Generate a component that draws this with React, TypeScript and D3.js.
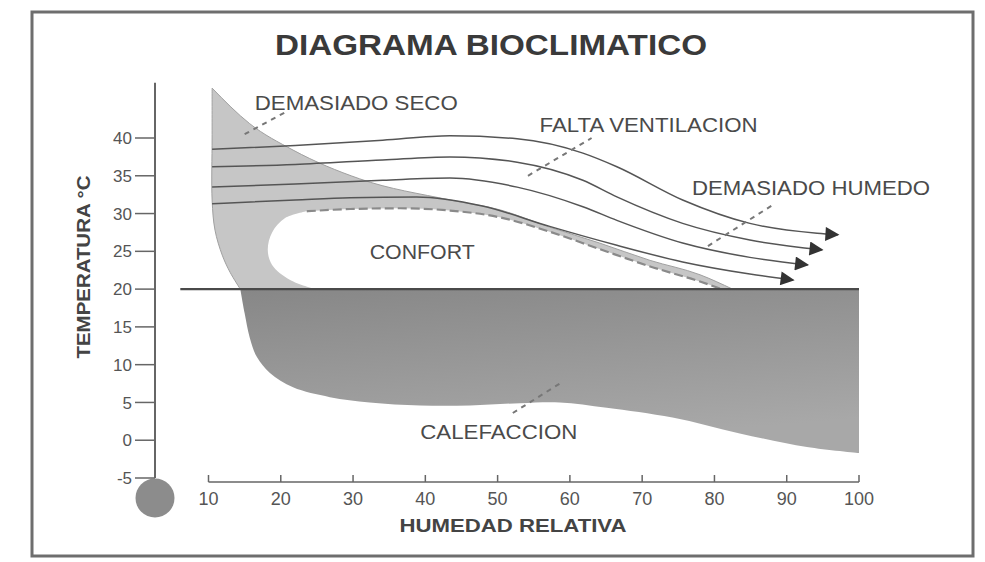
import React from 'react';
import * as d3 from 'd3';

type P = [number, number]; // [humedad relativa %, temperatura °C]

const xTicks = [10, 20, 30, 40, 50, 60, 70, 80, 90, 100];
const yTicks = [-5, 0, 5, 10, 15, 20, 25, 30, 35, 40];
const comfortFloor = 20;
const axisTopT = 47.3;
const floorLineStartH = 6.1;

// "Demasiado seco" (light grey) region
const dryTopEdge: P[] = [
  [10.5, 46.6], [15.7, 41.9], [21.7, 38.4], [30.9, 34.6], [43.4, 31.8],
  [50.3, 30.5], [57.2, 28.2], [64.1, 26.1], [71.1, 23.8], [78.0, 21.9], [82.5, 20.0],
];
const dryLeftEdge: P[] = [
  [14.4, 20.0], [13.0, 22.2], [11.9, 24.5], [10.9, 27.8], [10.5, 31.8], [10.5, 40.0], [10.5, 46.6],
];

// "Confort" zone
const comfortLeft: P[] = [
  [24.7, 20.0], [21.3, 21.2], [18.8, 23.2], [18.2, 25.2], [18.8, 27.5], [20.6, 29.4], [23.6, 30.3],
];
const comfortTop: P[] = [
  [23.6, 30.3], [29.6, 30.6], [36.5, 30.7], [43.4, 30.4], [50.3, 29.5],
  [57.2, 27.6], [64.1, 25.3], [71.1, 23.0], [78.0, 21.0], [81.0, 20.0],
];

// "Calefaccion" (dark grey) region, lower boundary
const heatingEdge: P[] = [
  [14.4, 20.0], [15.0, 16.8], [15.7, 13.6], [16.7, 11.0], [18.5, 8.9], [21.7, 7.0],
  [26.8, 5.7], [32.3, 5.0], [39.3, 4.6], [46.2, 4.6], [53.1, 4.9], [58.6, 5.0],
  [65.1, 4.3], [74.2, 3.0], [83.5, 0.9], [92.8, -0.9], [100.0, -1.7],
];

// ventilation arrows
const arrow1: P[] = [[10.5, 38.5], [22, 39.0], [34.1, 39.7], [43.4, 40.3], [52.7, 39.9], [61.8, 38.0], [66.5, 36.2], [75.6, 31.8], [84.9, 28.7], [94.2, 27.4], [97.1, 27.2]];
const arrow2: P[] = [[10.5, 36.2], [22, 36.5], [34.1, 37.1], [43.4, 37.5], [52.7, 36.8], [61.8, 34.4], [66.5, 32.2], [75.6, 28.7], [84.9, 26.5], [94.9, 25.2]];
const arrow3: P[] = [[10.5, 33.5], [22, 33.9], [34.1, 34.4], [43.4, 34.7], [52.7, 33.5], [61.8, 30.9], [66.5, 29.1], [75.6, 26.1], [84.9, 24.2], [92.9, 23.2]];
const arrow4: P[] = [[10.5, 31.3], [22, 31.8], [29.6, 32.1], [38.8, 32.2], [47.9, 31.0], [57.2, 28.3], [66.5, 25.8], [75.6, 23.6], [84.9, 22.0], [90.9, 21.2]];
const arrows = [arrow1, arrow2, arrow3, arrow4];

// region labels (anchored in data units) and their dashed leaders
const labelTexts = ['DEMASIADO SECO', 'FALTA VENTILACION', 'DEMASIADO HUMEDO', 'CONFORT', 'CALEFACCION'];
const labelAnchors: P[] = [[16.4, 43.7], [55.8, 40.8], [76.9, 32.5], [32.3, 24.0], [39.3, 0.1]];
const labelWidths = [203, 218, 238, 105, 157];
const leaders: [P, P][] = [
  [[15.0, 40.5], [20.6, 43.4]],
  [[54.2, 35.0], [63.0, 40.0]],
  [[79.1, 25.7], [88.0, 31.1]],
  [[52.1, 3.6], [58.6, 7.5]],
];

const FONT = '"Liberation Sans", Arial, Helvetica, sans-serif';

export default function App() {
  const x = d3.scaleLinear().domain([10, 100]).range([208.5, 859]);
  const y = d3.scaleLinear().domain([-5, 40]).range([478, 138]);
  const px = (p: P): [number, number] => [x(p[0]), y(p[1])];

  const mono = d3.line<[number, number]>().curve(d3.curveMonotoneX);
  const cr = d3.line<[number, number]>().curve(d3.curveCatmullRom.alpha(0.5));
  const join = (parts: string[], close = true) =>
    parts.map((p, i) => (i === 0 ? p : 'L' + p.slice(1))).join('') + (close ? 'Z' : '');

  const dryPath = join([mono(dryTopEdge.map(px))!, cr(dryLeftEdge.map(px))!]);
  const comfortPath = join([cr(comfortLeft.map(px))!, mono(comfortTop.map(px))!]);
  const heatPath = join([
    cr(heatingEdge.map(px))!,
    `M${x(100)},${y(comfortFloor)}`,
  ]);
  const comfortTopPath = mono(comfortTop.map(px))!;

  const axisX = 155;
  const axisY = 482;

  return (
    <svg width={985} height={562} style={{ position: 'absolute', left: 0, top: 0, background: '#fff' }} fontFamily={FONT}>
      <defs>
        <linearGradient id="heatGrad" x1="0" y1="0" x2="0.3" y2="1">
          <stop offset="0" stopColor="#878787" />
          <stop offset="1" stopColor="#a8a8a8" />
        </linearGradient>
        <marker id="ah" viewBox="0 0 10 10" refX="9" refY="5" markerWidth="19" markerHeight="14"
          markerUnits="userSpaceOnUse" orient="auto">
          <path d="M0,0L10,5L0,10Z" fill="#333" />
        </marker>
      </defs>

      <rect x={32} y={12} width={941} height={544} fill="none" stroke="#6e6e6e" strokeWidth={3} />

      <text x={491} y={55} textAnchor="middle" fontSize={29} fontWeight="bold" fill="#3a3a3a"
        textLength={432} lengthAdjust="spacingAndGlyphs">DIAGRAMA BIOCLIMATICO</text>

      {/* regions */}
      <path d={heatPath} fill="url(#heatGrad)" />
      <path d={dryPath} fill="#c6c6c6" stroke="#a0a0a0" strokeWidth={1} />
      <path d={comfortPath} fill="#fff" />
      <path d={comfortTopPath} fill="none" stroke="#8a8a8a" strokeWidth={2.2} strokeDasharray="9 4" />

      {/* comfort floor line */}
      <line x1={x(floorLineStartH)} x2={x(100)} y1={y(comfortFloor)} y2={y(comfortFloor)} stroke="#4a4a4a" strokeWidth={2.2} />

      {/* arrows */}
      {arrows.map((a, i) => (
        <path key={i} d={mono(a.map(px))!} fill="none" stroke="#555" strokeWidth={1.5} markerEnd="url(#ah)" />
      ))}

      {/* leaders */}
      {leaders.map((l, i) => (
        <line key={i} x1={x(l[0][0])} y1={y(l[0][1])} x2={x(l[1][0])} y2={y(l[1][1])}
          stroke="#777" strokeWidth={2} strokeDasharray="5 5" />
      ))}

      {/* labels */}
      {labelTexts.map((t, i) => (
        <text key={t} x={x(labelAnchors[i][0])} y={y(labelAnchors[i][1])} fontSize={20} fill="#4a4a4a"
          textLength={labelWidths[i]} lengthAdjust="spacingAndGlyphs">{t}</text>
      ))}

      {/* y axis */}
      <line x1={axisX} x2={axisX} y1={y(axisTopT)} y2={y(-5)} stroke="#666" strokeWidth={2} />
      <circle cx={axisX} cy={y(-5) + 20} r={19.5} fill="#8c8c8c" />
      {yTicks.map(t => (
        <g key={t}>
          <line x1={axisX - 20} x2={axisX} y1={y(t)} y2={y(t)} stroke="#666" strokeWidth={1.5} />
          <text x={axisX - 23} y={y(t)} dy="0.36em" textAnchor="end" fontSize={17} fill="#555">{t}</text>
        </g>
      ))}
      <text transform={`translate(83,267) rotate(-90)`} textAnchor="middle" dy="0.36em" fontSize={19}
        fontWeight="bold" fill="#444" textLength={183} lengthAdjust="spacingAndGlyphs">TEMPERATURA °C</text>

      {/* x axis */}
      <line x1={x(10)} x2={x(100)} y1={axisY} y2={axisY} stroke="#666" strokeWidth={1.5} />
      {xTicks.map(t => (
        <g key={t}>
          <line x1={x(t)} x2={x(t)} y1={axisY - 7} y2={axisY} stroke="#666" strokeWidth={1.5} />
          <text x={x(t)} y={505} textAnchor="middle" fontSize={18} fill="#555">{t}</text>
        </g>
      ))}
      <text x={513} y={532} textAnchor="middle" fontSize={18} fontWeight="bold" fill="#444"
        textLength={227} lengthAdjust="spacingAndGlyphs">HUMEDAD RELATIVA</text>
    </svg>
  );
}
